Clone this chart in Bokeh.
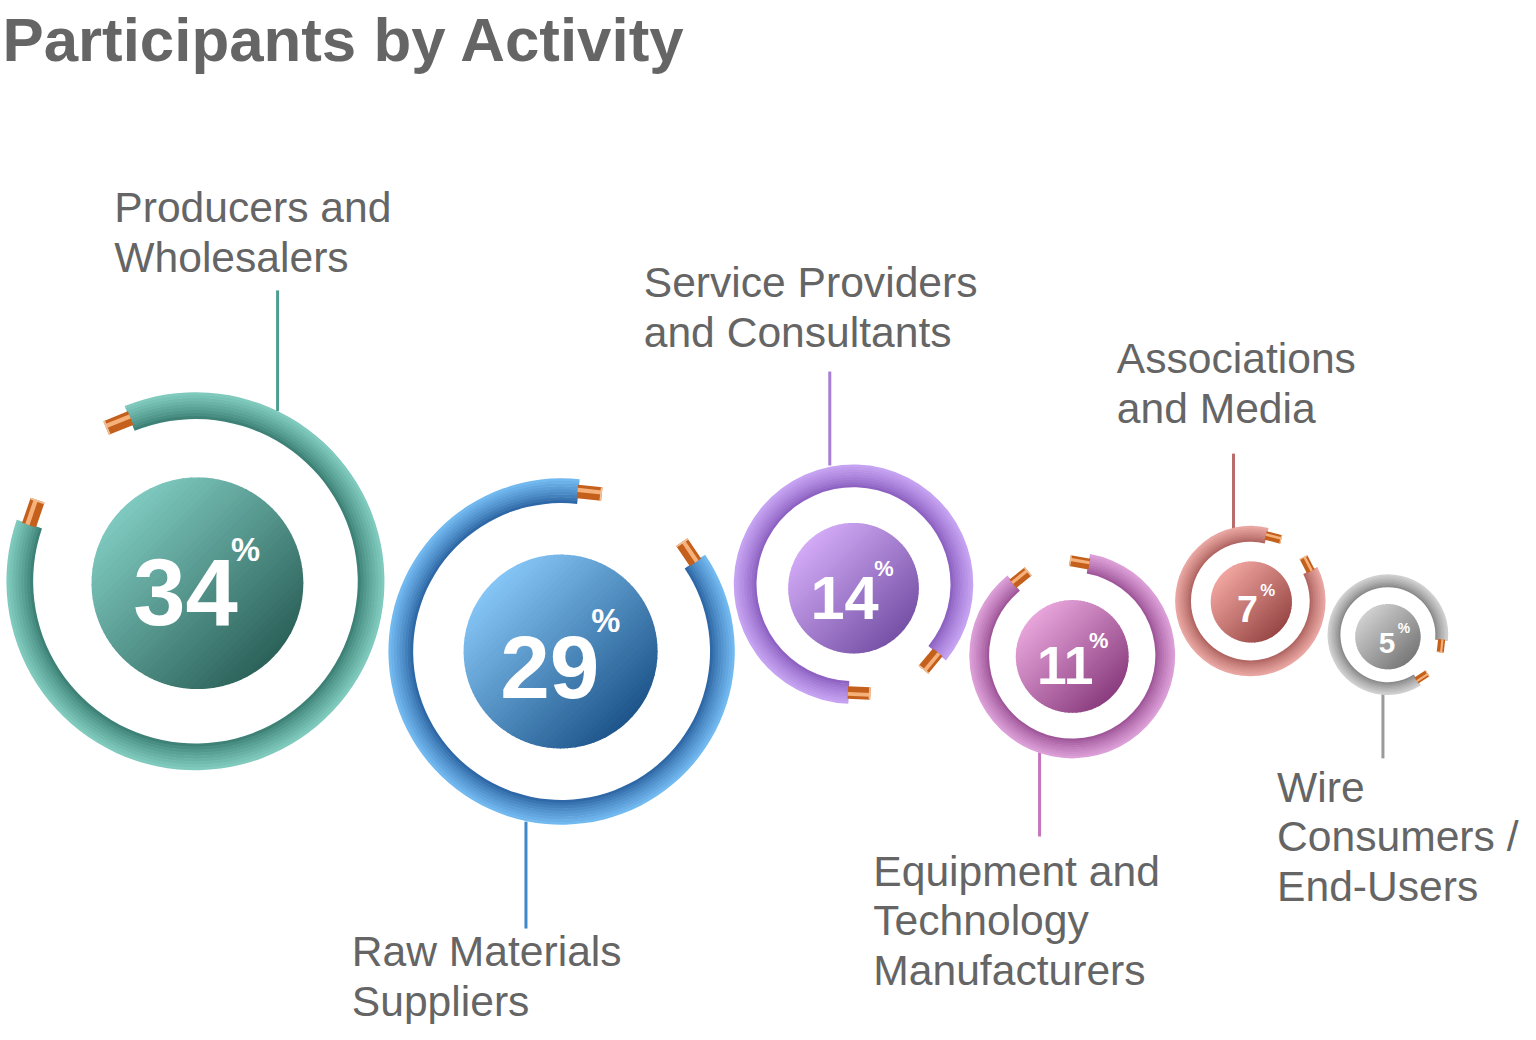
import numpy as np
from bokeh.plotting import figure
from bokeh.models import Range1d
from bokeh.core.properties import value
from bokeh.embed import file_html
from bokeh.resources import INLINE

# ---------------- data ----------------
title = "Participants by Activity"
categories = [
    "Producers and\nWholesalers",
    "Raw Materials\nSuppliers",
    "Service Providers\nand Consultants",
    "Equipment and\nTechnology\nManufacturers",
    "Associations\nand Media",
    "Wire\nConsumers /\nEnd-Users",
]
shares = [34, 29, 14, 11, 7, 5]

# ---------------- layout (reference pixel coordinates) ----------------
ring_cx = [197, 567, 862, 1083, 1263, 1402]
ring_cy = [587, 658, 590, 662, 607, 641]
ring_outer = [191, 175, 121, 104, 76, 61]
ring_thick = [27, 25, 23, 20, 16, 13]
gap_a = [112, 34, -92.5, 80, 27, -57]
gap_b = [161, 84, -39.5, 129, 76, -6]

disc_cx = [199, 566, 862, 1083, 1264, 1402]
disc_cy = [589, 658, 594, 663, 608, 643]
disc_r = [107, 98, 66, 57, 41, 33]

num_x = [187, 555, 853, 1076, 1260, 1401]
num_base = [626, 701, 623, 688, 626, 658]
num_size = [95, 90, 62, 54, 38, 30]
pct_x = [233, 597, 883, 1100, 1273, 1412]
pct_base = [565, 637, 581, 653, 601, 638]
pct_size = [33, 33, 22, 22, 17, 14]

leader_x = [280, 531, 838, 1050, 1246, 1397]
leader_y0 = [293, 830, 375, 760, 458, 700]
leader_y1 = [415, 938, 470, 845, 535, 766]

label_x = [115, 355, 650, 882, 1128, 1290]
label_base = [223, 975, 299, 894, 376, 809]
label_step = 50
label_size = 43
title_size = 62.5
title_base = 60

# ---------------- styles ----------------
tube_inner = ["#377a6f", "#275f9d", "#875bbd", "#994f93", "#aa5f5c", "#828282"]
tube_outer = ["#82cdc1", "#76bdf4", "#c9a6f4", "#dfa2da", "#eca9a5", "#d4d4d4"]
disc_light = ["#7fcac0", "#86c6f6", "#d2aaf6", "#e8a6dc", "#f2a6a0", "#d0d0d0"]
disc_dark = ["#2b6159", "#1d558a", "#7651a6", "#8a3c7e", "#974745", "#787878"]
leader_col = ["#4e9d92", "#3d88c9", "#a77ed8", "#c575bd", "#b96d6b", "#9a9a9a"]
text_col = "#656565"
copper_dark = "#c4601c"
copper_light = "#f6b07a"
FONT = "Liberation Sans"
FIX_LABEL = 0.33  # em shift so that the drawn baseline sits where intended
FIX_NUM = 0.30

W, H = 1520, 1024
REF_W, REF_H = 1536, 1035
TOP = 1040
S = W / REF_W


def Y(y):
    return TOP - y


def hex2rgb(c):
    c = c.lstrip("#")
    return np.array([int(c[i:i + 2], 16) for i in (0, 2, 4)], dtype=float)


def mix(c1, c2, t):
    a, b = hex2rgb(c1), hex2rgb(c2)
    r = a + (b - a) * t
    return "#%02x%02x%02x" % tuple(int(round(v)) for v in r)


p = figure(width=W, height=H, x_range=Range1d(0, REF_W), y_range=Range1d(TOP - REF_H, TOP),
           output_backend="svg", toolbar_location=None, min_border=0,
           x_axis_location=None, y_axis_location=None,
           outline_line_color=None, background_fill_color="white", border_fill_color="white")
p.grid.visible = False

# leader lines
for i in range(len(shares)):
    p.segment(x0=[leader_x[i]], y0=[Y(leader_y0[i])], x1=[leader_x[i]], y1=[Y(leader_y1[i])],
              line_color=leader_col[i], line_width=3)

# rings (tube shading: bands from inner to outer)
NB = 9
for i in range(len(shares)):
    cx, cy = ring_cx[i], Y(ring_cy[i])
    r_in = ring_outer[i] - ring_thick[i]
    th = ring_thick[i]
    for k in range(NB):
        ri = r_in + th * k / NB
        ro = r_in + th * (k + 1) / NB + (0.7 if k < NB - 1 else 0)
        t = (k + 0.5) / NB
        col = mix(tube_inner[i], tube_outer[i], t ** 0.8)
        p.annular_wedge(x=[cx], y=[cy], inner_radius=ri, outer_radius=ro,
                        start_angle=np.radians(gap_b[i]), end_angle=np.radians(gap_a[i]),
                        direction="anticlock", fill_color=col, line_color=None)
    # copper tips
    rc = ring_outer[i] - th / 2
    L = 0.95 * th
    w = 0.55 * th
    for ang, sgn in ((gap_a[i], 1), (gap_b[i], -1)):
        a = np.radians(ang)
        bx, by = cx + rc * np.cos(a), cy + rc * np.sin(a)
        dx, dy = -np.sin(a) * sgn, np.cos(a) * sgn
        sx, sy = bx - dx * 1.0, by - dy * 1.0
        ex, ey = bx + dx * L, by + dy * L
        p.segment(x0=[sx], y0=[sy], x1=[ex], y1=[ey], line_color=copper_dark,
                  line_width=w * S, line_cap="butt")
        ox, oy = np.cos(a) * w * 0.12, np.sin(a) * w * 0.12
        p.segment(x0=[sx + ox], y0=[sy + oy], x1=[ex + ox], y1=[ey + oy], line_color=copper_light,
                  line_width=w * 0.3 * S, line_cap="butt")
        p.segment(x0=[ex - dx * 0.12 * w], y0=[ey - dy * 0.12 * w], x1=[ex], y1=[ey],
                  line_color="#f0c29a", line_width=w * S, line_cap="butt")

# discs with diagonal gradient
NS = 40
d = np.array([1.0, -1.0]) / np.sqrt(2)
e = np.array([1.0, 1.0]) / np.sqrt(2)
for i in range(len(shares)):
    cx, cy, R = disc_cx[i], Y(disc_cy[i]), disc_r[i]
    xs, ys, cols = [], [], []
    for k in range(NS):
        t0 = -R + 2 * R * k / NS
        t1 = min(R, -R + 2 * R * (k + 1) / NS + 0.8)
        ph0 = np.arccos(np.clip(t0 / R, -1, 1))
        ph1 = np.arccos(np.clip(t1 / R, -1, 1))
        up = np.linspace(ph1, ph0, 14)
        dn = np.linspace(-ph0, -ph1, 14)
        ph = np.concatenate([up, dn])
        px = cx + R * (np.cos(ph) * d[0] + np.sin(ph) * e[0])
        py = cy + R * (np.cos(ph) * d[1] + np.sin(ph) * e[1])
        xs.append(list(px))
        ys.append(list(py))
        cols.append(mix(disc_light[i], disc_dark[i], (k + 0.5) / NS))
    p.patches(xs=xs, ys=ys, fill_color=cols, line_color=None)


def TY(base, size, fix):
    # baseline position in data units, corrected for renderer baseline offset
    return Y(base - fix * size)


# numbers
for i in range(len(shares)):
    p.text(x=[num_x[i]], y=[TY(num_base[i], num_size[i], FIX_NUM)], text=[str(shares[i])],
           text_font=value(FONT), text_font_style="bold",
           text_font_size=value(f"{num_size[i] * S:.1f}px"), text_color="white",
           text_align="center", text_baseline="alphabetic")
    p.text(x=[pct_x[i]], y=[TY(pct_base[i], pct_size[i], FIX_NUM)], text=["%"],
           text_font=value(FONT), text_font_style="bold",
           text_font_size=value(f"{pct_size[i] * S:.1f}px"), text_color="white",
           text_align="left", text_baseline="alphabetic")

# labels
lx, ly, lt = [], [], []
for i, cat in enumerate(categories):
    for j, line in enumerate(cat.split("\n")):
        lx.append(label_x[i])
        ly.append(TY(label_base[i] + j * label_step, label_size, FIX_LABEL))
        lt.append(line)
p.text(x=lx, y=ly, text=lt, text_font=value(FONT), text_font_size=value(f"{label_size * S:.1f}px"),
       text_color=text_col, text_align="left", text_baseline="alphabetic")

# title
p.text(x=[2], y=[TY(title_base, title_size, FIX_LABEL)], text=[title], text_font=value(FONT),
       text_font_style="bold", text_font_size=value(f"{title_size * S:.1f}px"), text_color=text_col,
       text_align="left", text_baseline="alphabetic")

open("out.html", "w").write(file_html(p, INLINE, title=title))
